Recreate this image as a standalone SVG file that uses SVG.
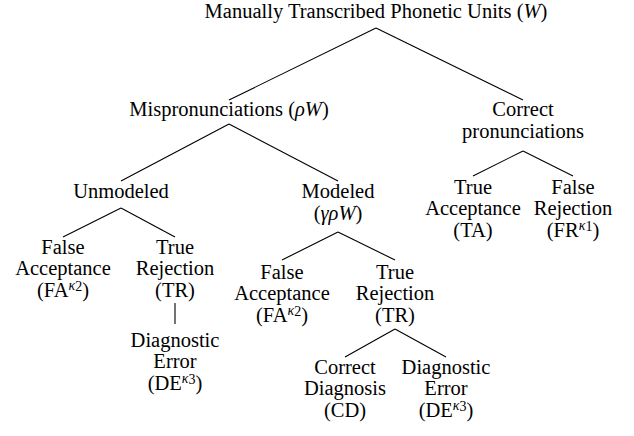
<svg xmlns="http://www.w3.org/2000/svg" width="634" height="436" viewBox="0 0 634 436">
<style>
text{font-family:"Liberation Serif","Times New Roman",serif;font-size:20.5px;fill:#000;text-anchor:middle}
.m{font-style:italic}
.s{font-size:14px}
line{stroke:#000;stroke-width:1.1}
</style>
<rect width="634" height="436" fill="#fff"/>
<g id="connectors">
<line x1="376" y1="28" x2="229" y2="100"/>
<line x1="376" y1="28" x2="523" y2="100"/>
<line x1="229" y1="124" x2="121" y2="181"/>
<line x1="229" y1="124" x2="338" y2="181"/>
<line x1="523" y1="151" x2="473" y2="176"/>
<line x1="523" y1="151" x2="573" y2="176"/>
<line x1="121" y1="208" x2="63" y2="237"/>
<line x1="121" y1="208" x2="175" y2="237"/>
<line x1="338" y1="232" x2="282" y2="260"/>
<line x1="338" y1="232" x2="395" y2="260"/>
<line x1="175" y1="303" x2="175" y2="324"/>
<line x1="395" y1="329" x2="345" y2="357"/>
<line x1="395" y1="329" x2="446" y2="357"/>
</g>
<g id="root"><text x="376" y="18">Manually Transcribed Phonetic Units (<tspan class="m">W</tspan>)</text></g>
<g id="mispron"><text x="229" y="116">Mispronunciations (<tspan class="m">ρW</tspan>)</text></g>
<g id="correct"><text x="523" y="116">Correct</text><text x="523" y="137.5">pronunciations</text></g>
<g id="ta"><text x="473" y="193.5">True</text><text x="473" y="215">Acceptance</text><text x="473" y="236.5">(TA)</text></g>
<g id="fr"><text x="573" y="193.5">False</text><text x="573" y="215">Rejection</text><text x="573" y="236.5">(FR<tspan class="s m" dy="-7">κ</tspan><tspan class="s" dy="1">1</tspan><tspan dy="6">)</tspan></text></g>
<g id="unmodeled"><text x="121" y="198">Unmodeled</text></g>
<g id="modeled"><text x="338" y="198">Modeled</text><text x="338" y="219.5">(<tspan class="m">γρW</tspan>)</text></g>
<g id="fa1"><text x="63" y="253.5">False</text><text x="63" y="275">Acceptance</text><text x="63" y="296.5">(FA<tspan class="s m" dy="-7">κ</tspan><tspan class="s" dy="1">2</tspan><tspan dy="6">)</tspan></text></g>
<g id="tr1"><text x="175" y="253.5">True</text><text x="175" y="275">Rejection</text><text x="175" y="296.5">(TR)</text></g>
<g id="de1"><text x="175" y="346.5">Diagnostic</text><text x="175" y="368">Error</text><text x="175" y="389.5">(DE<tspan class="s m" dy="-7">κ</tspan><tspan class="s" dy="1">3</tspan><tspan dy="6">)</tspan></text></g>
<g id="fa2"><text x="282" y="278.5">False</text><text x="282" y="300">Acceptance</text><text x="282" y="321.5">(FA<tspan class="s m" dy="-7">κ</tspan><tspan class="s" dy="1">2</tspan><tspan dy="6">)</tspan></text></g>
<g id="tr2"><text x="395" y="278.5">True</text><text x="395" y="300">Rejection</text><text x="395" y="321.5">(TR)</text></g>
<g id="cd"><text x="345" y="373.5">Correct</text><text x="345" y="395">Diagnosis</text><text x="345" y="416.5">(CD)</text></g>
<g id="de2"><text x="446" y="373.5">Diagnostic</text><text x="446" y="395">Error</text><text x="446" y="416.5">(DE<tspan class="s m" dy="-7">κ</tspan><tspan class="s" dy="1">3</tspan><tspan dy="6">)</tspan></text></g>
</svg>
